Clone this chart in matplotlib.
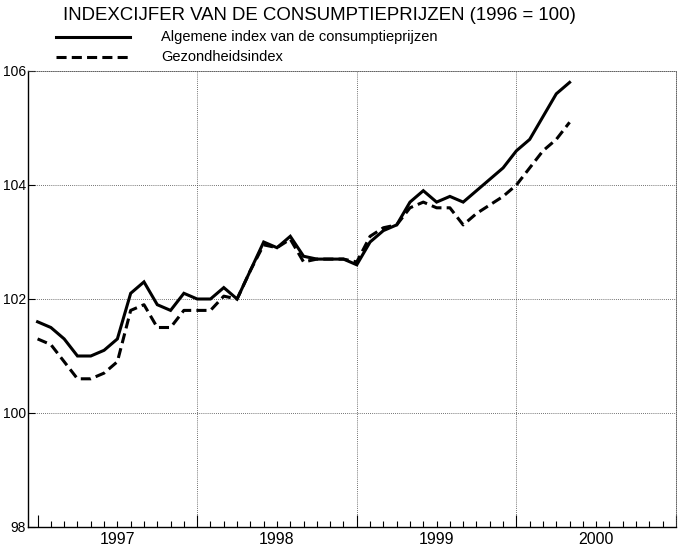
import numpy as np
import matplotlib
matplotlib.use('Agg')
import matplotlib.pyplot as plt
from matplotlib.lines import Line2D
from matplotlib.ticker import MultipleLocator

plt.rcParams['font.family'] = ['Liberation Sans', 'DejaVu Sans']

# maandgegevens, januari 1997 t/m mei 2000
start_year = 1997
algemeen = [101.6, 101.5, 101.3, 101.0, 101.0, 101.1, 101.3, 102.1, 102.3, 101.9,
            101.8, 102.1, 102.0, 102.0, 102.2, 102.0, 102.5, 103.0, 102.9, 103.1,
            102.75, 102.7, 102.7, 102.7, 102.6, 103.0, 103.2, 103.3, 103.7, 103.9,
            103.7, 103.8, 103.7, 103.9, 104.1, 104.3, 104.6, 104.8, 105.2, 105.6,
            105.8]
gezondheid = [101.3, 101.2, 100.9, 100.6, 100.6, 100.7, 100.9, 101.8, 101.9, 101.5,
              101.5, 101.8, 101.8, 101.8, 102.05, 102.0, 102.5, 102.95, 102.9, 103.05,
              102.65, 102.7, 102.7, 102.7, 102.65, 103.1, 103.25, 103.3, 103.6, 103.7,
              103.6, 103.6, 103.3, 103.5, 103.65, 103.8, 104.0, 104.3, 104.6, 104.8,
              105.1]
jaren = [1997, 1998, 1999, 2000]
y_ticks = [98, 100, 102, 104, 106]

titel = 'INDEXCIJFER VAN DE CONSUMPTIEPRIJZEN (1996 = 100)'
labels = ['Algemene index van de consumptieprijzen', 'Gezondheidsindex']

x = start_year + np.arange(len(algemeen)) / 12.0

fig = plt.figure(figsize=(6.83, 5.52), dpi=100)
ax = fig.add_axes([28 / 683, 1 - 527 / 552, 648 / 683, 456 / 552])

dash = (0, (3.3, 1.7))
ax.plot(x, algemeen, color='black', lw=2.2, solid_joinstyle='miter')
ax.plot(x, gezondheid, color='black', lw=2.2, linestyle=dash)

ax.set_xlim(1996.94, 2001.0)
ax.set_ylim(98, 106)

# raster
grid_style = dict(color='#444444', lw=0.6, linestyle=(0, (1, 1.5)), zorder=0)
for yv in y_ticks[1:-1]:
    ax.axhline(yv, **grid_style)
for j in jaren[1:]:
    ax.axvline(j, **grid_style)

for side in ['top', 'right']:
    ax.spines[side].set_linestyle((0, (1, 1.5)))
    ax.spines[side].set_linewidth(0.6)
    ax.spines[side].set_color('#444444')
for side in ['left', 'bottom']:
    ax.spines[side].set_linewidth(1.0)

ax.set_yticks(y_ticks)
ax.set_yticklabels([str(v) for v in y_ticks], fontsize=10)
ax.tick_params(axis='y', direction='in', length=5, width=0.8, pad=1.5)

ax.set_xticks(jaren + [2001])
ax.set_xticklabels([])
ax.xaxis.set_minor_locator(MultipleLocator(1 / 12))
ax.tick_params(axis='x', which='major', direction='in', length=9, width=0.8)
ax.tick_params(axis='x', which='minor', direction='in', length=4, width=0.8)

for j in jaren:
    ax.text(j + 0.5, -0.012, str(j), transform=ax.get_xaxis_transform(),
            ha='center', va='top', fontsize=11.5)

# titel en legenda
fig.text(63 / 683, 1 - 15 / 552, titel, fontsize=13.4, ha='left', va='center')
fig.add_artist(Line2D([56 / 683, 130 / 683], [1 - 37 / 552] * 2, color='black', lw=2.2))
fig.add_artist(Line2D([56 / 683, 130 / 683], [1 - 57 / 552] * 2, color='black', lw=2.2,
                      linestyle=dash))
fig.text(161 / 683, 1 - 37 / 552, labels[0], fontsize=10.5, ha='left', va='center')
fig.text(161 / 683, 1 - 57 / 552, labels[1], fontsize=10.5, ha='left', va='center')

fig.savefig('out.png', dpi=100)
